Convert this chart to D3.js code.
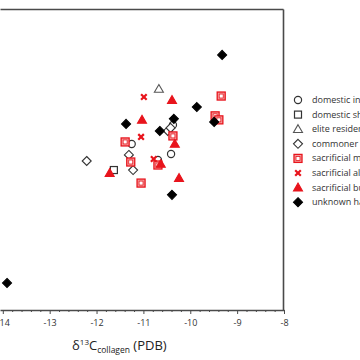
<!DOCTYPE html>
<html><head><meta charset="utf-8">
<script src="https://cdn.jsdelivr.net/npm/d3@7"></script>
<style>body{margin:0;background:#fff}svg{display:block;font-family:"Open Sans",Arial,sans-serif}</style>
</head><body><svg id="c" width="360" height="360"></svg>
<script>
const categories = ["domestic inhumation","domestic shrine","elite residence","commoner cemetery","sacrificial mass grave","sacrificial altar","sacrificial burial","unknown habitation"];
const xTicks = [-14,-13,-12,-11,-10,-9,-8];
// δ13C (x), δ15N (y) per category
const domesticInside = [[-10.37,11.38],[-11.25,10.62],[-10.41,10.22],[-10.69,9.98]];
const domesticShrine = [[-11.63,9.58]];
const eliteResidence = [[-10.67,12.81]];
const commoner = [[-12.21,9.94],[-11.31,10.18],[-11.22,9.58],[-10.48,11.14],[-10.42,11.26]];
const sacrificialMass = [[-9.34,12.53],[-9.47,11.74],[-9.39,11.58],[-10.37,10.94],[-11.39,10.70],[-11.27,9.90],[-10.69,9.78],[-11.05,9.06]];
const sacrificialAltar = [[-10.99,12.49],[-11.05,10.90],[-10.78,10.02]];
const sacrificialBurial = [[-10.39,12.37],[-11.03,11.58],[-10.33,10.62],[-10.63,9.82],[-11.72,9.46],[-10.24,9.26]];
const unknownHab = [[-9.32,14.17],[-9.86,12.09],[-9.49,11.50],[-10.35,11.62],[-11.37,11.42],[-10.65,11.14],[-10.39,8.59],[-13.91,5.08]];
const seriesData = [domesticInside,domesticShrine,eliteResidence,commoner,sacrificialMass,sacrificialAltar,sacrificialBurial,unknownHab];
const markerTypes = ["circle","square","triangle","diamond","hatchsq","cross","triangle","diamond"];
const markerFill = ["#fff","#fff","#fff","#fff","#f4a3a3","#e8141c","#e8141c","#000"];
const markerStroke = ["#333","#333","#555","#333","#e8141c","#e8141c","#e8141c","#000"];

const svg = d3.select("#c");
const x = d3.scaleLinear().domain([-14.06,-8]).range([0,284]);
const y = d3.scaleLinear().domain([4,16]).range([310,9]);
const frame = "#4a4a4a";

// top and right frame drawn as tickless axes
const xf = d3.scaleLinear().domain([-14.06,-8]).range([0,283]);
const gTop = svg.append("g").attr("class","frame-top").attr("transform","translate(0,9)");
gTop.call(d3.axisTop(xf).tickValues([]).tickSizeOuter(0));
const gRight = svg.append("g").attr("class","frame-right").attr("transform","translate(283,0)");
gRight.call(d3.axisRight(y).tickValues([]).tickSizeOuter(0));
svg.selectAll(".frame-top .domain, .frame-right .domain").attr("stroke",frame).attr("stroke-width",1.6);

const minor = d3.range(-13.8,-8.0001,0.2).map(v=>+v.toFixed(1)).filter(v=>Math.abs(v-Math.round(v))>1e-6);
const gx = svg.append("g").attr("transform","translate(0,310)");
gx.call(d3.axisBottom(x).tickValues(minor).tickSize(2).tickFormat(""));
gx.call(g=>g.select(".domain").remove());
const gx2 = svg.append("g").attr("transform","translate(0,310)");
gx2.call(d3.axisBottom(x).tickValues(xTicks).tickSize(4).tickSizeOuter(0).tickPadding(6).tickFormat(d=>String(d).replace("−","-")));
gx2.select(".domain").attr("stroke",frame).attr("stroke-width",1.4);
svg.selectAll(".tick line").attr("stroke",frame);
gx2.selectAll(".tick text").attr("font-size",9).attr("fill","#333").attr("font-family","'Open Sans',Arial,sans-serif");

const title = svg.append("text").attr("x",72).attr("y",350).attr("font-size",13).attr("fill","#222");
title.append("tspan").text("δ");
title.append("tspan").attr("font-size",8).attr("dy",-5).text("13");
title.append("tspan").attr("dy",5).text("C");
title.append("tspan").attr("font-size",8.5).attr("dy",3).text("collagen");
title.append("tspan").attr("dy",-3).text(" (PDB)");

function drawMarker(g, t, cx, cy, i){
  const s = markerStroke[i], f = markerFill[i];
  if(t==="circle") g.append("circle").attr("cx",cx).attr("cy",cy).attr("r",3.6).attr("fill",f).attr("stroke",s).attr("stroke-width",1.2);
  else if(t==="square") g.append("rect").attr("x",cx-3.5).attr("y",cy-3.5).attr("width",7).attr("height",7).attr("fill",f).attr("stroke",s).attr("stroke-width",1.2);
  else if(t==="triangle") g.append("path").attr("d",`M${cx},${cy-4.5}L${cx+4.5},${cy+3.3}L${cx-4.5},${cy+3.3}Z`).attr("fill",f).attr("stroke",s).attr("stroke-width",1.1);
  else if(t==="diamond") g.append("path").attr("d",`M${cx},${cy-4.5}L${cx+4.5},${cy}L${cx},${cy+4.5}L${cx-4.5},${cy}Z`).attr("fill",f).attr("stroke",s).attr("stroke-width",1.1);
  else if(t==="hatchsq"){
    g.append("rect").attr("x",cx-4).attr("y",cy-4).attr("width",8).attr("height",8).attr("fill",f).attr("stroke",s).attr("stroke-width",1.3);
    g.append("rect").attr("x",cx-2).attr("y",cy-2).attr("width",4).attr("height",4).attr("fill","#fff").attr("stroke",s).attr("stroke-width",0.8);
  } else if(t==="cross"){
    g.append("path").attr("d",`M${cx-2.8},${cy-2.8}L${cx+2.8},${cy+2.8}M${cx+2.8},${cy-2.8}L${cx-2.8},${cy+2.8}`).attr("stroke",s).attr("stroke-width",2.2);
  }
}
const pts = svg.append("g");
seriesData.forEach((arr,i)=>{
  const g = pts.append("g");
  arr.forEach(d=>drawMarker(g, markerTypes[i], x(d[0]), y(d[1]), i));
});

const leg = svg.append("g");
categories.forEach((c,i)=>{
  const cy = 100 + i*14.6;
  drawMarker(leg, markerTypes[i], 298, cy, i);
  leg.append("text").attr("x",312).attr("y",cy+3).attr("font-size",9).attr("fill","#333").text(c);
});
</script></body></html>
